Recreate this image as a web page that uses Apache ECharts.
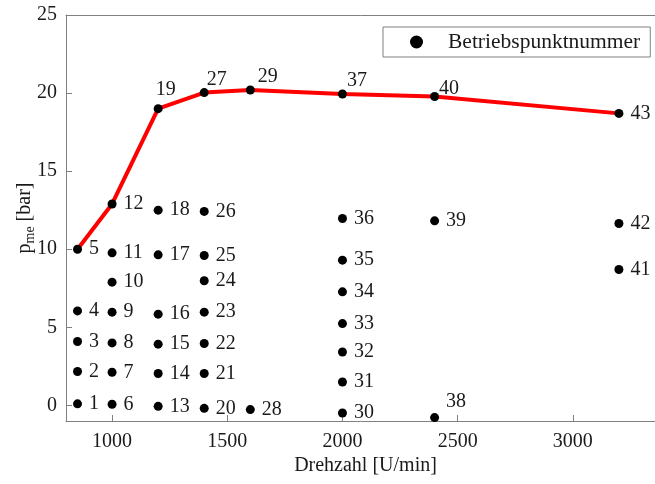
<!DOCTYPE html>
<html><head><meta charset="utf-8">
<script src="https://cdn.jsdelivr.net/npm/echarts@6/dist/echarts.min.js"></script>
<style>html,body{margin:0;padding:0;background:#fff}#c{width:655px;height:484px}</style>
</head><body><div id="c"></div>
<script>
// Betriebspunkte (operating points)
const pointIds = [1,2,3,4,5, 6,7,8,9,10,11,12, 13,14,15,16,17,18,19, 20,21,22,23,24,25,26,27, 28,29, 30,31,32,33,34,35,36,37, 38,39,40, 41,42,43];
const rpm = [850,850,850,850,850, 1000,1000,1000,1000,1000,1000,1000, 1200,1200,1200,1200,1200,1200,1200, 1400,1400,1400,1400,1400,1400,1400,1400, 1600,1600, 2000,2000,2000,2000,2000,2000,2000,2000, 2400,2400,2400, 3200,3200,3200];
const pme = [0.1,2.17,4.09,6.05,10.0, 0.07,2.12,4.0,5.97,7.89,9.77,12.9, -0.06,2.04,3.92,5.84,9.64,12.5,19.0, -0.19,2.04,3.96,5.97,7.98,9.6,12.42,20.03, -0.27,20.2, -0.49,1.5,3.42,5.24,7.27,9.3,11.97,19.94, -0.78,11.82,19.78, 8.7,11.65,18.7];
// Volllastlinie (full-load curve) through these points
const fullLoadIds = [5,12,19,27,29,37,40,43];
const xTicks = [1000,1500,2000,2500,3000];
const yTicks = [0,5,10,15,20,25];
const legendName = 'Betriebspunktnummer';
const xName = 'Drehzahl [U/min]';

const FONT = 'Liberation Serif';
const TXT = '#1a1a1a';
const AX = '#808080';
// label placement overrides (style only)
const labelShift = {19:[-14,-19], 27:[-9,-13], 29:[-4,-13], 37:[-7,-13], 40:[-7,-8], 38:[0,-16]};

const scatterData = pointIds.map((id, i) => {
  const item = {value: [rpm[i], pme[i], id]};
  if (labelShift[id]) item.label = {offset: labelShift[id]};
  return item;
});
const lineData = fullLoadIds.map(id => {
  const i = pointIds.indexOf(id);
  return [rpm[i], pme[i]];
});

const chart = echarts.init(document.getElementById('c'), null, {renderer: 'canvas'});
chart.setOption({
  animation: false,
  backgroundColor: '#fff',
  textStyle: {fontFamily: FONT, color: TXT},
  grid: {left: 66, top: 15, right: -10, bottom: 63, show: false,
    containLabel: false, outerBoundsMode: 'none'},
  legend: {
    data: [legendName], left: 383, top: 27, selectedMode: false,
    icon: 'circle', itemWidth: 13, itemHeight: 13, itemGap: 0,
    padding: [4, 10, 4, 27], borderColor: AX, borderWidth: 1, backgroundColor: '#fff',
    textStyle: {fontFamily: FONT, fontSize: 21.5, color: TXT, padding: [0, 0, 0, 20]}
  },
  xAxis: [{
    type: 'value', min: 800, max: 3400,
    name: xName, nameLocation: 'middle', nameGap: 35, nameMoveOverlap: false,
    nameTextStyle: {fontFamily: FONT, fontSize: 20, color: TXT},
    axisLine: {show: true, onZero: false, lineStyle: {color: AX, width: 1}},
    axisTick: {show: true, inside: true, length: 6, customValues: xTicks, lineStyle: {color: AX}},
    axisLabel: {customValues: xTicks, formatter: v => String(v), fontFamily: FONT, fontSize: 20, color: TXT, margin: 11},
    splitLine: {show: false}
  }, {
    type: 'value', min: 800, max: 3400, position: 'top',
    axisLine: {show: true, onZero: false, lineStyle: {color: AX, width: 1}},
    axisTick: {show: false}, axisLabel: {show: false}, splitLine: {show: false}
  }],
  yAxis: {
    type: 'value', min: -1, max: 25,
    name: '{a|p}{b|me}{a| [bar]}', nameLocation: 'middle', nameGap: 31, nameRotate: 90, nameMoveOverlap: false,
    nameTextStyle: {fontFamily: FONT, fontSize: 20, color: TXT,
      rich: {a: {fontFamily: FONT, fontSize: 20, color: TXT, lineHeight: 20},
             b: {fontFamily: FONT, fontSize: 14, color: TXT, lineHeight: 14, padding: [10, 0, 0, 0]}}},
    axisLine: {show: true, onZero: false, lineStyle: {color: AX, width: 1}},
    axisTick: {show: true, inside: true, length: 6, customValues: yTicks, lineStyle: {color: AX}},
    axisLabel: {customValues: yTicks, formatter: v => String(v), fontFamily: FONT, fontSize: 20, color: TXT, margin: 9},
    splitLine: {show: false}
  },
  series: [
    {
      type: 'line', name: 'Volllast', data: lineData, showSymbol: false, silent: true,
      lineStyle: {color: '#ff0000', width: 4}, z: 2
    },
    {
      type: 'scatter', name: legendName, data: scatterData, symbol: 'circle', symbolSize: 9,
      itemStyle: {color: '#000', opacity: 1}, z: 3,
      label: {show: true, position: 'right', distance: 7, formatter: p => p.value[2],
        fontFamily: FONT, fontSize: 20, color: TXT}
    }
  ]
});
</script></body></html>
